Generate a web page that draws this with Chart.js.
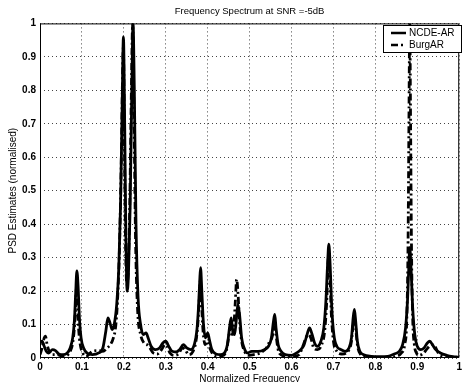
<!DOCTYPE html>
<html>
<head>
<meta charset="utf-8">
<script src="https://cdn.jsdelivr.net/npm/chart.js@4/dist/chart.umd.min.js"></script>
<style>
  html, body { margin: 0; padding: 0; background: #fff; }
  canvas { display: block; }
</style>
</head>
<body>
<canvas id="psd" width="465" height="382"></canvas>
<script>
// NCDE-AR (solid)
const ncdeFreq = [0.000, 0.005, 0.010, 0.015, 0.020, 0.030, 0.037, 0.045, 0.055, 0.065, 0.072, 0.078, 0.082, 0.085, 0.088, 0.091, 0.094, 0.098, 0.104, 0.112, 0.125, 0.140, 0.150, 0.157, 0.162, 0.167, 0.172, 0.177, 0.183, 0.188, 0.192, 0.196, 0.199, 0.202, 0.205, 0.208, 0.211, 0.215, 0.219, 0.222, 0.225, 0.229, 0.234, 0.240, 0.246, 0.253, 0.258, 0.265, 0.275, 0.285, 0.293, 0.300, 0.307, 0.315, 0.325, 0.333, 0.342, 0.350, 0.360, 0.368, 0.374, 0.378, 0.381, 0.383, 0.386, 0.390, 0.395, 0.400, 0.404, 0.410, 0.420, 0.430, 0.440, 0.447, 0.452, 0.456, 0.460, 0.464, 0.468, 0.472, 0.476, 0.481, 0.487, 0.495, 0.505, 0.520, 0.535, 0.545, 0.552, 0.557, 0.560, 0.563, 0.568, 0.575, 0.585, 0.600, 0.612, 0.622, 0.630, 0.637, 0.643, 0.648, 0.655, 0.662, 0.670, 0.677, 0.682, 0.686, 0.689, 0.692, 0.696, 0.701, 0.708, 0.718, 0.728, 0.737, 0.743, 0.747, 0.750, 0.753, 0.757, 0.763, 0.772, 0.790, 0.810, 0.830, 0.845, 0.857, 0.865, 0.872, 0.877, 0.880, 0.882, 0.885, 0.889, 0.894, 0.900, 0.908, 0.916, 0.924, 0.930, 0.936, 0.944, 0.955, 0.970, 0.985, 1.000];
const ncdeVals = [0.045, 0.05, 0.035, 0.02, 0.015, 0.025, 0.022, 0.012, 0.01, 0.015, 0.03, 0.06, 0.11, 0.19, 0.26, 0.21, 0.12, 0.06, 0.03, 0.015, 0.01, 0.015, 0.03, 0.08, 0.12, 0.105, 0.085, 0.1, 0.16, 0.27, 0.45, 0.75, 0.96, 0.7, 0.35, 0.2, 0.25, 0.45, 0.8, 1.0, 0.8, 0.4, 0.18, 0.1, 0.07, 0.075, 0.06, 0.035, 0.025, 0.03, 0.045, 0.05, 0.035, 0.02, 0.018, 0.025, 0.04, 0.03, 0.025, 0.04, 0.08, 0.15, 0.23, 0.27, 0.2, 0.1, 0.06, 0.075, 0.055, 0.025, 0.012, 0.01, 0.015, 0.04, 0.09, 0.12, 0.08, 0.07, 0.11, 0.16, 0.13, 0.06, 0.03, 0.015, 0.02, 0.02, 0.025, 0.035, 0.06, 0.11, 0.13, 0.09, 0.04, 0.02, 0.01, 0.008, 0.015, 0.025, 0.04, 0.07, 0.09, 0.075, 0.045, 0.035, 0.05, 0.09, 0.17, 0.28, 0.34, 0.28, 0.15, 0.07, 0.035, 0.025, 0.02, 0.03, 0.06, 0.12, 0.145, 0.11, 0.05, 0.02, 0.01, 0.005, 0.004, 0.005, 0.012, 0.02, 0.04, 0.09, 0.18, 0.28, 0.33, 0.27, 0.15, 0.07, 0.035, 0.025, 0.03, 0.045, 0.05, 0.04, 0.025, 0.015, 0.008, 0.004, 0.002];

// BurgAR (dash-dot)
const burgFreq = [0.000, 0.005, 0.010, 0.013, 0.017, 0.022, 0.030, 0.040, 0.055, 0.065, 0.072, 0.078, 0.082, 0.085, 0.087, 0.089, 0.092, 0.096, 0.102, 0.110, 0.125, 0.140, 0.150, 0.160, 0.168, 0.175, 0.181, 0.186, 0.190, 0.194, 0.197, 0.199, 0.201, 0.204, 0.207, 0.210, 0.214, 0.218, 0.221, 0.224, 0.228, 0.233, 0.240, 0.248, 0.255, 0.262, 0.270, 0.280, 0.290, 0.298, 0.303, 0.310, 0.320, 0.330, 0.340, 0.346, 0.355, 0.365, 0.372, 0.377, 0.380, 0.382, 0.385, 0.389, 0.394, 0.400, 0.405, 0.412, 0.425, 0.438, 0.445, 0.451, 0.455, 0.458, 0.462, 0.466, 0.469, 0.472, 0.476, 0.481, 0.488, 0.497, 0.510, 0.525, 0.540, 0.548, 0.553, 0.557, 0.560, 0.563, 0.568, 0.577, 0.590, 0.605, 0.618, 0.627, 0.634, 0.640, 0.646, 0.653, 0.662, 0.672, 0.679, 0.684, 0.688, 0.691, 0.695, 0.700, 0.708, 0.720, 0.735, 0.743, 0.747, 0.750, 0.753, 0.757, 0.764, 0.775, 0.800, 0.830, 0.850, 0.862, 0.870, 0.875, 0.878, 0.880, 0.882, 0.884, 0.886, 0.889, 0.893, 0.898, 0.905, 0.915, 0.925, 0.935, 0.942, 0.950, 0.960, 0.980, 1.000];
const burgVals = [0.01, 0.03, 0.06, 0.065, 0.04, 0.02, 0.01, 0.01, 0.005, 0.008, 0.02, 0.045, 0.09, 0.16, 0.21, 0.17, 0.09, 0.04, 0.015, 0.005, 0.02, 0.022, 0.02, 0.03, 0.04, 0.06, 0.1, 0.2, 0.35, 0.6, 0.85, 0.93, 0.7, 0.35, 0.22, 0.25, 0.45, 0.8, 1.0, 0.75, 0.35, 0.14, 0.07, 0.045, 0.04, 0.03, 0.015, 0.012, 0.025, 0.04, 0.035, 0.015, 0.008, 0.012, 0.03, 0.025, 0.01, 0.02, 0.05, 0.11, 0.18, 0.23, 0.17, 0.08, 0.04, 0.05, 0.03, 0.012, 0.005, 0.008, 0.025, 0.07, 0.1, 0.07, 0.09, 0.17, 0.235, 0.2, 0.11, 0.05, 0.02, 0.008, 0.01, 0.015, 0.03, 0.05, 0.06, 0.08, 0.1, 0.07, 0.025, 0.008, 0.003, 0.004, 0.01, 0.035, 0.06, 0.07, 0.06, 0.03, 0.025, 0.04, 0.08, 0.17, 0.3, 0.26, 0.13, 0.05, 0.02, 0.012, 0.02, 0.05, 0.1, 0.12, 0.09, 0.04, 0.012, 0.005, 0.002, 0.002, 0.005, 0.015, 0.04, 0.12, 0.35, 0.7, 1.0, 0.7, 0.35, 0.12, 0.04, 0.015, 0.008, 0.015, 0.03, 0.04, 0.035, 0.015, 0.006, 0.003, 0.002];

const seriesNames = ["NCDE-AR", "BurgAR"];
const axisTicks = [0, 0.1, 0.2, 0.3, 0.4, 0.5, 0.6, 0.7, 0.8, 0.9, 1];

const toPoints = (fs, vs) => fs.map((f, i) => ({ x: f, y: vs[i] }));
const FONT = "'Liberation Sans', Arial, sans-serif";

// box round the plot + the little legend box in the upper right
const frameAndLegend = {
  id: "frameAndLegend",
  afterDatasetsDraw(chart) {
    const { ctx, chartArea: a } = chart;
    ctx.save();
    ctx.strokeStyle = "#000";
    ctx.lineWidth = 1;
    ctx.setLineDash([]);
    ctx.strokeRect(a.left + 0.5, a.top + 0.5, a.right - a.left - 1, a.bottom - a.top - 1);

    const bx = 383, by = 25, bw = 78, bh = 27;
    ctx.fillStyle = "#fff";
    ctx.fillRect(bx, by, bw, bh);
    ctx.strokeRect(bx + 0.5, by + 0.5, bw, bh);
    chart.data.datasets.forEach((ds, i) => {
      const y = by + 8 + i * 12;
      ctx.strokeStyle = "#000";
      ctx.lineWidth = 2.5;
      ctx.setLineDash(ds.borderDash || []);
      ctx.beginPath();
      ctx.moveTo(bx + 8, y);
      ctx.lineTo(bx + 23, y);
      ctx.stroke();
      ctx.setLineDash([]);
      ctx.fillStyle = "#000";
      ctx.font = "10px " + FONT;
      ctx.textBaseline = "middle";
      ctx.fillText(ds.label, bx + 26, y + 0.5);
    });
    ctx.restore();
  },
};

new Chart(document.getElementById("psd"), {
  type: "line",
  plugins: [frameAndLegend],
  data: {
    datasets: [
      {
        label: seriesNames[0],
        data: toPoints(ncdeFreq, ncdeVals),
        borderColor: "#000",
        borderWidth: 2.8,
        pointRadius: 0,
        cubicInterpolationMode: "monotone",
        order: 2,
      },
      {
        label: seriesNames[1],
        data: toPoints(burgFreq, burgVals),
        borderColor: "#000",
        borderWidth: 2.8,
        borderDash: [7, 3, 2, 3],
        pointRadius: 0,
        cubicInterpolationMode: "monotone",
        order: 1,
      },
    ],
  },
  options: {
    responsive: false,
    animation: false,
    layout: { padding: { left: 0, right: -2, top: 0, bottom: 0 } },
    plugins: {
      legend: { display: false },
      tooltip: { enabled: false },
      title: {
        display: true,
        fullSize: false,
        text: "Frequency Spectrum at SNR =-5dB",
        color: "#000",
        font: { family: FONT, size: 9.5, weight: "normal" },
        padding: { top: 6, bottom: 6 },
      },
    },
    scales: {
      x: {
        type: "linear",
        min: 0,
        max: 1,
        afterBuildTicks: (s) => { s.ticks = axisTicks.map((v) => ({ value: v })); },
        afterFit: (s) => { s.height = 24; },
        ticks: {
          color: "#000",
          padding: 3,
          maxRotation: 0,
          callback: (v) => String(v),
          font: { family: FONT, size: 10, weight: "bold" },
        },
        grid: { color: "#444", lineWidth: 1, drawTicks: false },
        border: { display: false, dash: [1, 3] },
        title: {
          display: true,
          text: "Normalized Frequency",
          color: "#000",
          padding: { top: 0, bottom: -3 },
          font: { family: FONT, size: 10 },
        },
      },
      y: {
        min: 0,
        max: 1,
        afterBuildTicks: (s) => { s.ticks = axisTicks.map((v) => ({ value: v })); },
        afterFit: (s) => { s.width = 40; },
        ticks: {
          color: "#000",
          padding: 4,
          callback: (v) => String(v),
          font: { family: FONT, size: 10, weight: "bold" },
        },
        grid: { color: "#444", lineWidth: 1, drawTicks: false },
        border: { display: false, dash: [1, 3] },
        title: {
          display: true,
          text: "PSD Estimates (normalised)",
          color: "#000",
          padding: { top: 7, bottom: 0 },
          font: { family: FONT, size: 10 },
        },
      },
    },
  },
});
</script>
</body>
</html>
